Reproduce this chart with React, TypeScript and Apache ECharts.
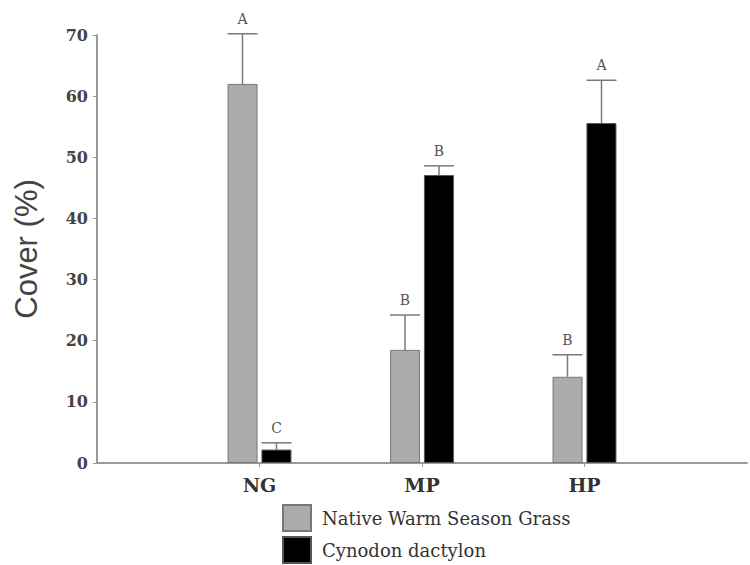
import React, { useEffect, useRef } from "react";
import * as echarts from "echarts";

const categories = ["", "NG", "MP", "HP", ""];
const groupIndex = [1, 2, 3];
const nativeMean = [62, 18.5, 14.1];
const nativeErr = [8.2, 5.7, 3.6];
const nativeLetters = ["A", "B", "B"];
const cynodonMean = [2.2, 47.1, 55.6];
const cynodonErr = [1.1, 1.5, 7.0];
const cynodonLetters = ["C", "B", "A"];
const yTicks = [0, 10, 20, 30, 40, 50, 60, 70];

const serif = "'DejaVu Serif', 'Liberation Serif', serif";

function padSeries(vals: number[]) {
  const out: (number | null)[] = categories.map(() => null);
  groupIndex.forEach((ci, i) => (out[ci] = vals[i]));
  return out;
}

function errSeries(name: string, means: number[], errs: number[], letters: string[], dx: number) {
  return {
    type: "custom",
    name,
    z: 5,
    silent: true,
    data: groupIndex.map((ci, i) => [ci, means[i], errs[i]]),
    renderItem: (params: any, api: any) => {
      const ci = api.value(0);
      const m = api.value(1);
      const e = api.value(2);
      const base = api.coord([ci, m]);
      const top = api.coord([ci, m + e]);
      const x = base[0] + dx;
      const half = 15;
      return {
        type: "group",
        children: [
          {
            type: "line",
            shape: { x1: x, y1: base[1], x2: x, y2: top[1] },
            style: { stroke: "#7a7a7a", lineWidth: 1.5 },
          },
          {
            type: "line",
            shape: { x1: x - half, y1: top[1], x2: x + half, y2: top[1] },
            style: { stroke: "#7a7a7a", lineWidth: 1.5 },
          },
          {
            type: "text",
            x,
            y: top[1] - 8,
            style: {
              text: letters[params.dataIndex],
              fontFamily: serif,
              fontSize: 14,
              fill: "#555",
              align: "center",
              verticalAlign: "bottom",
            },
          },
        ],
      };
    },
  };
}

export default function App() {
  const ref = useRef<HTMLDivElement>(null);
  useEffect(() => {
    if (!ref.current) return;
    const chart = echarts.init(ref.current, undefined, { renderer: "svg" });
    chart.setOption({
      animation: false,
      backgroundColor: "#ffffff",
      grid: { left: 97, top: 35, width: 656, height: 428, containLabel: false },
      legend: {
        data: ["Native Warm Season Grass", "Cynodon dactylon"],
        orient: "vertical",
        left: 282,
        top: 504,
        padding: 0,
        itemWidth: 28,
        itemHeight: 26,
        itemGap: 4,
        icon: "rect",
        textStyle: { fontFamily: serif, fontSize: 18, color: "#333", padding: [0, 0, 0, 6] },
      },
      xAxis: {
        type: "category",
        data: categories,
        boundaryGap: false,
        axisLine: { lineStyle: { color: "#999", width: 2 } },
        axisTick: {
          show: true,
          length: 4,
          interval: (i: number) => i > 0 && i < categories.length - 1,
          lineStyle: { color: "#999" },
        },
        axisLabel: {
          fontFamily: serif,
          fontWeight: "bold",
          fontSize: 19,
          color: "#333",
          margin: 12,
          interval: 0,
        },
      },
      yAxis: {
        type: "value",
        min: 0,
        max: 70,
        interval: 10,
        name: "Cover (%)",
        nameLocation: "middle",
        nameGap: 55,
        nameTextStyle: { fontFamily: "'Liberation Sans', Arial, sans-serif", fontSize: 31, color: "#444" },
        axisLine: { show: true, lineStyle: { color: "#999", width: 2 } },
        axisTick: { show: true, length: 4, lineStyle: { color: "#999" } },
        splitLine: { show: false },
        axisLabel: {
          fontFamily: serif,
          fontWeight: "bold",
          fontSize: 16,
          color: "#444",
          margin: 9,
          formatter: (v: number) => (yTicks.includes(v) ? String(v) : ""),
        },
      },
      series: [
        {
          type: "bar",
          name: "Native Warm Season Grass",
          data: padSeries(nativeMean),
          barWidth: 30,
          barGap: "13%",
          itemStyle: { color: "#ababab", borderColor: "#777", borderWidth: 1 },
        },
        {
          type: "bar",
          name: "Cynodon dactylon",
          data: padSeries(cynodonMean),
          barWidth: 30,
          barGap: "13%",
          itemStyle: { color: "#000000", borderColor: "#555", borderWidth: 1 },
        },
        errSeries("errNative", nativeMean, nativeErr, nativeLetters, -17),
        errSeries("errCynodon", cynodonMean, cynodonErr, cynodonLetters, 17),
      ],
    });
    return () => chart.dispose();
  }, []);
  return <div ref={ref} style={{ width: 750, height: 565, position: "absolute", left: 0, top: 0 }} />;
}
